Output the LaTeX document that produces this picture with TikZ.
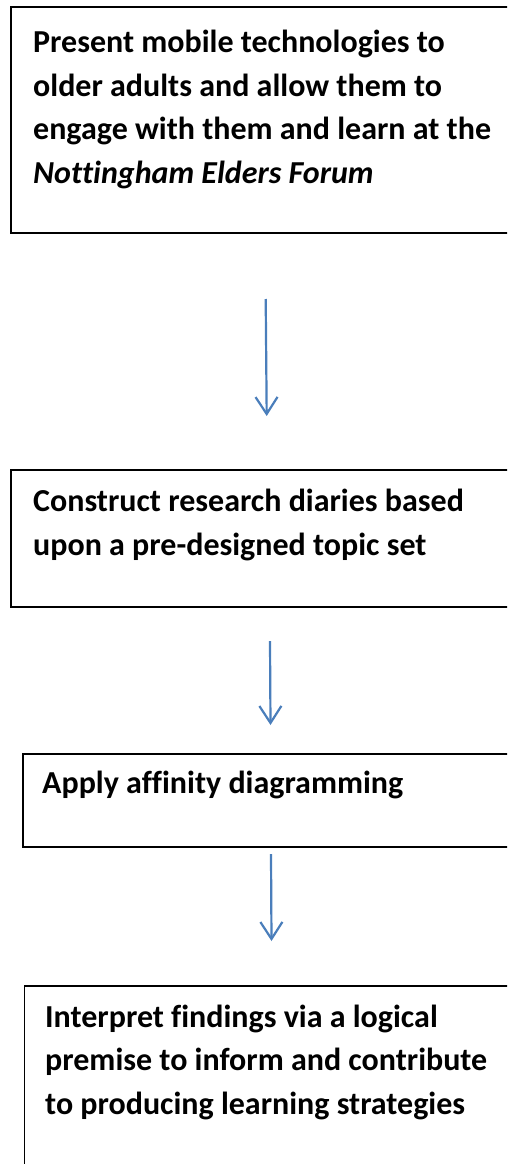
\documentclass[tikz,border=0pt]{standalone}
\usepackage{fontspec}
\setmainfont{Carlito}[Ligatures=NoCommon]
\usetikzlibrary{arrows.meta}
\definecolor{flowblue}{HTML}{4A7EBB}
\tikzset{
  stepframe/.style={draw=black, line width=1.8pt, fill=none, inner sep=0pt, anchor=north west},
  steptext/.style={anchor=base west, inner sep=0pt, align=left,
    font=\fontsize{32}{43.5}\selectfont\bfseries},
  flowarrow/.style={draw=flowblue, line width=2.2pt,
    -{Straight Barb[length=17pt,width=22pt,line width=2.2pt]}}
}
\begin{document}
\begin{tikzpicture}[x=1pt,y=-1pt]
  \useasboundingbox (0,0) rectangle (507,1164);
  \clip (0,0) rectangle (507,1164);

  % frames of the four steps
  \node[stepframe, minimum width=520pt, minimum height=226pt] (b1) at (10,6) {};
  \node[stepframe, minimum width=520pt, minimum height=137pt] (b2) at (10,469) {};
  \node[stepframe, minimum width=510pt, minimum height=93pt]  (b3) at (22,753) {};
  \node[stepframe, minimum width=510pt, minimum height=200pt] (b4) at (23.5,985) {};

  % step texts (placed by the baseline of their last line)
  \node[steptext] (t1) at (33,183) {Present mobile technologies to\\older adults and allow them to\\engage with them and learn at the\\\textit{Nottingham Elders Forum}};
  \node[steptext] (t2) at (33,555) {Construct research diaries based\\upon a pre-designed topic set};
  \node[steptext] (t3) at (42,793) {Apply affinity diagramming};
  \node[steptext] (t4) at (45,1114) {Interpret findings via a logical\\premise to inform and contribute\\to producing learning strategies};

  % connectors between the steps
  \coordinate (a1s) at (265.7,299);
  \coordinate (a1e) at (266.7,416);
  \coordinate (a2s) at (270,641);
  \coordinate (a2e) at (270.5,725);
  \coordinate (a3s) at (271,854);
  \coordinate (a3e) at (271.5,941);
  \draw[flowarrow] (a1s) -- (a1e);
  \draw[flowarrow] (a2s) -- (a2e);
  \draw[flowarrow] (a3s) -- (a3e);
\end{tikzpicture}
\end{document}
